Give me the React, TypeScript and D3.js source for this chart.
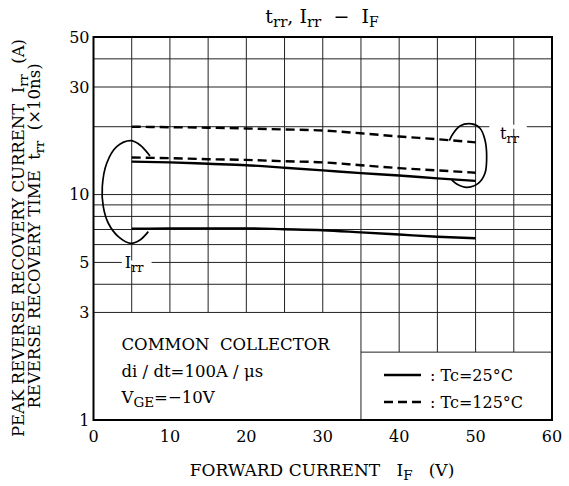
import React from "react";
import * as d3 from "d3";

// ---- data ----
const xTicks = [0, 10, 20, 30, 40, 50, 60];
const yTicks = [1, 3, 5, 10, 30, 50];
const xGrid = [5, 10, 15, 20, 25, 30, 35, 40, 45, 50, 55];
const yGridFull = [3, 4, 5, 6, 7, 8, 9, 10, 20, 30, 40];
const yGridRight = [2];

const IF = [5, 10, 15, 20, 25, 30, 35, 40, 45, 50];
const trr125 = [20.0, 19.9, 19.8, 19.65, 19.45, 19.25, 18.7, 18.1, 17.6, 17.05];
const irr125 = [14.6, 14.5, 14.35, 14.25, 14.05, 13.9, 13.5, 13.1, 12.8, 12.5];
const trr25 = [14.0, 13.9, 13.7, 13.5, 13.15, 12.8, 12.45, 12.15, 11.8, 11.5];
const irr25 = [7.05, 7.07, 7.08, 7.08, 7.02, 6.95, 6.8, 6.65, 6.5, 6.4];

// annotation loops (IF, value)
const loopIrrX = [7.39, 6.08, 4.87, 3.04, 1.73, 1.15, 1.28, 1.94, 3.25, 4.87, 6.08, 7.17];
const loopIrrY = [14.84, 16.6, 17.34, 16.31, 13.77, 10.84, 8.84, 7.46, 6.51, 6.08, 6.29, 6.85];
const loopTrrX = [46.56, 47.08, 47.96, 49.49, 50.58, 51.23, 51.45, 51.23, 50.35, 48.83, 47.53, 46.87];
const loopTrrY = [17.34, 18.7, 20.16, 20.57, 19.69, 17.47, 14.73, 12.43, 11.22, 10.77, 11.14, 11.61];

const W = 569;
const H = 486;
const FONT = "'DejaVu Serif', serif";

export default function App() {
  const x = d3.scaleLinear().domain([0, 60]).range([93.5, 552]);
  const y = d3.scaleLog().domain([1, 50]).range([420, 37]);
  const line = d3
    .line<[number, number]>()
    .x((d) => x(d[0]))
    .y((d) => y(d[1]))
    .curve(d3.curveMonotoneX);
  const loop = d3
    .line<[number, number]>()
    .x((d) => x(d[0]))
    .y((d) => y(d[1]))
    .curve(d3.curveCatmullRom.alpha(0.5));
  const zip = (a: number[], b: number[]) => a.map((v, i) => [v, b[i]] as [number, number]);

  const series = [
    { v: trr125, dash: "9,5" },
    { v: irr125, dash: "9,5" },
    { v: trr25, dash: null },
    { v: irr25, dash: null },
  ];

  const gridColor = "#222";
  const sub = 4;

  return (
    <svg
      width={W}
      height={H}
      style={{ position: "absolute", left: 0, top: 0, background: "#fff" }}
      fontFamily={FONT}
    >
      <rect x={0} y={0} width={W} height={H} fill="#fff" />
      {/* vertical grid */}
      {xGrid.map((g) => (
        <line
          key={"vx" + g}
          x1={x(g)}
          x2={x(g)}
          y1={y(50)}
          y2={g < 35 ? y(3) : g === 35 ? y(1) : y(2)}
          stroke={gridColor}
          strokeWidth={1}
        />
      ))}
      {/* horizontal grid */}
      {yGridFull.map((g) => (
        <line key={"hy" + g} x1={x(0)} x2={x(60)} y1={y(g)} y2={y(g)} stroke={gridColor} strokeWidth={1} />
      ))}
      {yGridRight.map((g) => (
        <line key={"hr" + g} x1={x(35)} x2={x(60)} y1={y(g)} y2={y(g)} stroke={gridColor} strokeWidth={1} />
      ))}

      {/* data lines */}
      {series.map((s, i) => (
        <path
          key={"s" + i}
          d={line(zip(IF, s.v)) || ""}
          fill="none"
          stroke="#000"
          strokeWidth={2.4}
          strokeDasharray={s.dash || undefined}
        />
      ))}

      {/* loops */}
      <path d={loop(zip(loopIrrX, loopIrrY)) || ""} fill="none" stroke="#000" strokeWidth={1.7} />
      <path d={loop(zip(loopTrrX, loopTrrY)) || ""} fill="none" stroke="#000" strokeWidth={1.7} />

      {/* curve labels */}
      <rect x={x(3.7)} y={y(5) - 2} width={x(7.6) - x(3.7)} height={4} fill="#fff" />
      <text x={x(4.1)} y={y(5) + 5.5} fontSize={16}>
        I<tspan dy={sub} fontSize={13}>rr</tspan>
      </text>
      <rect x={x(51.8)} y={y(20) - 2} width={x(56.7) - x(51.8)} height={4} fill="#fff" />
      <text x={x(53.2)} y={y(20) + 12} fontSize={16}>
        t<tspan dy={sub} fontSize={13}>rr</tspan>
      </text>

      {/* frame */}
      <rect
        x={x(0)}
        y={y(50)}
        width={x(60) - x(0)}
        height={y(1) - y(50)}
        fill="none"
        stroke="#000"
        strokeWidth={2}
      />

      {/* conditions box text */}
      <text x={121.5} y={350} fontSize={16.5}>
        COMMON{"\u00a0\u00a0"}COLLECTOR
      </text>
      <text x={121.5} y={377} fontSize={16.5}>
        di{"\u00a0"}/{"\u00a0"}dt=100A{"\u00a0"}/{"\u00a0"}μs
      </text>
      <text x={121.5} y={403} fontSize={16.5}>
        V<tspan dy={sub} fontSize={13.5}>GE</tspan>
        <tspan dy={-sub}>=−10V</tspan>
      </text>

      {/* legend */}
      <line x1={384} x2={421} y1={375} y2={375} stroke="#000" strokeWidth={2.4} />
      <line x1={384} x2={421} y1={402} y2={402} stroke="#000" strokeWidth={2.4} strokeDasharray="9,5" />
      <text x={430} y={381} fontSize={16}>
        :{"\u00a0"}Tc=25°C
      </text>
      <text x={430} y={408} fontSize={16}>
        :{"\u00a0"}Tc=125°C
      </text>

      {/* tick labels */}
      {yTicks.map((t) => (
        <text key={"yt" + t} x={x(0) - 4} y={y(t) + 5.5} fontSize={16} textAnchor="end">
          {t}
        </text>
      ))}
      {xTicks.map((t) => (
        <text key={"xt" + t} x={x(t)} y={442} fontSize={16} textAnchor="middle">
          {t}
        </text>
      ))}

      {/* title */}
      <text x={322} y={23} fontSize={19} textAnchor="middle">
        t<tspan dy={sub} fontSize={15}>rr</tspan>
        <tspan dy={-sub}>,{"\u00a0"}I</tspan>
        <tspan dy={sub} fontSize={15}>rr</tspan>
        <tspan dy={-sub}>{"\u00a0\u00a0"}−{"\u00a0\u00a0"}I</tspan>
        <tspan dy={sub} fontSize={14}>F</tspan>
      </text>

      {/* x axis title */}
      <text x={322} y={476} fontSize={17} textAnchor="middle">
        FORWARD{"\u00a0"}CURRENT{"\u00a0\u00a0\u00a0"}I<tspan dy={sub} fontSize={13.5}>F</tspan>
        <tspan dy={-sub}>{"\u00a0\u00a0\u00a0"}(V)</tspan>
      </text>

      {/* y axis titles */}
      <text transform="translate(24,238) rotate(-90)" fontSize={16.5} textAnchor="middle">
        PEAK{"\u00a0"}REVERSE{"\u00a0"}RECOVERY{"\u00a0"}CURRENT{"\u00a0\u00a0"}I
        <tspan dy={sub} fontSize={13}>rr</tspan>
        <tspan dy={-sub}>{"\u00a0\u00a0"}(A)</tspan>
      </text>
      <text transform="translate(40,236) rotate(-90)" fontSize={16.5} textAnchor="middle">
        REVERSE{"\u00a0"}RECOVERY{"\u00a0"}TIME{"\u00a0\u00a0"}t<tspan dy={sub} fontSize={13}>rr</tspan>
        <tspan dy={-sub}>{"\u00a0\u00a0"}(×10ns)</tspan>
      </text>
    </svg>
  );
}
